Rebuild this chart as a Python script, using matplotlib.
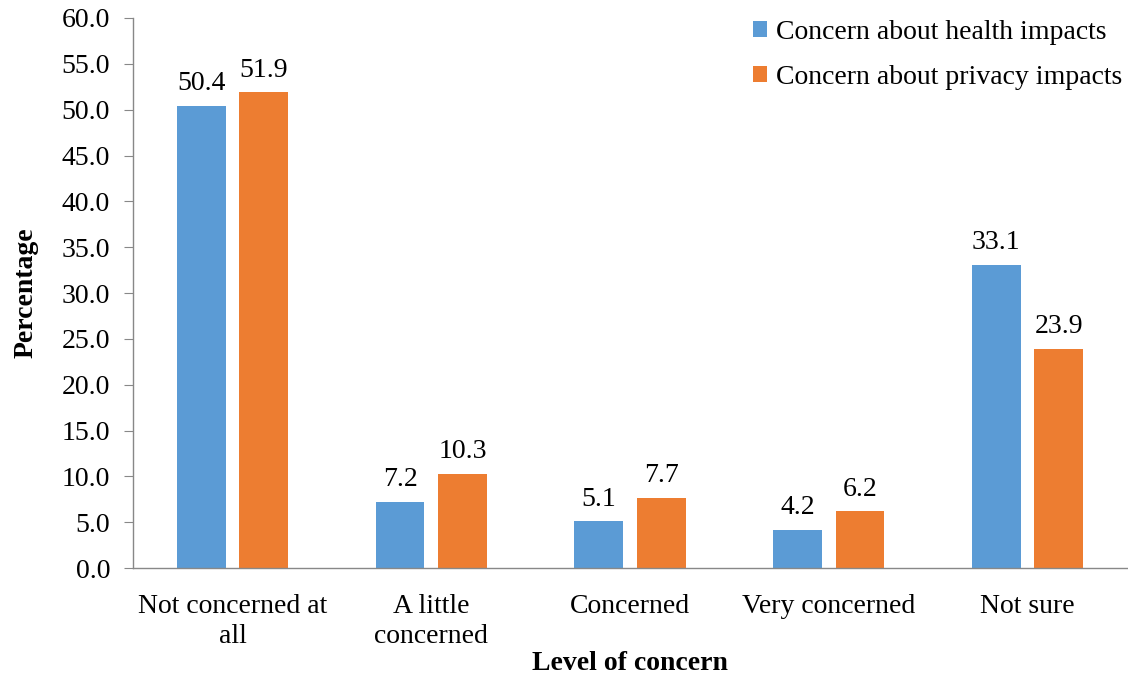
import numpy as np
import matplotlib.pyplot as plt

plt.rcParams['font.family'] = ['Liberation Serif', 'DejaVu Serif']

# Survey results (percent of respondents)
categories = ['Not concerned at\nall', 'A little\nconcerned', 'Concerned',
              'Very concerned', 'Not sure']
health = [50.4, 7.2, 5.1, 4.2, 33.1]
privacy = [51.9, 10.3, 7.7, 6.2, 23.9]
series_names = ['Concern about health impacts', 'Concern about privacy impacts']
colors = ['#5B9BD5', '#ED7D31']

fs = 20

fig = plt.figure(figsize=(11.28, 6.78), dpi=100)
ax = fig.add_axes([0.118, 0.162, 0.881, 0.8115])

x = np.arange(len(categories))
w = 0.245
off = 0.157
b1 = ax.bar(x - off, health, w, color=colors[0], label=series_names[0])
b2 = ax.bar(x + off, privacy, w, color=colors[1], label=series_names[1])

for bars, vals in ((b1, health), (b2, privacy)):
    for rect, v in zip(bars, vals):
        ax.annotate(f'{v:.1f}', (rect.get_x() + rect.get_width() / 2, v),
                    xytext=(0, 7), textcoords='offset points',
                    ha='center', va='bottom', fontsize=fs)

ax.set_xlim(-0.5, len(categories) - 0.5)
ax.set_ylim(0, 60)
ax.set_yticks(np.arange(0, 60.1, 5))
ax.set_yticklabels([f'{t:.1f}' for t in np.arange(0, 60.1, 5)])
ax.set_xticks(x)
ax.set_xticklabels(categories, fontsize=fs, linespacing=1.25)
ax.tick_params(axis='x', length=0, pad=18.5)
ax.tick_params(axis='y', length=6.5, color='#888888', labelsize=fs, pad=10)

for s in ('top', 'right'):
    ax.spines[s].set_visible(False)
for s in ('left', 'bottom'):
    ax.spines[s].set_color('#888888')
    ax.spines[s].set_linewidth(1.0)

ax.set_ylabel('Percentage', fontsize=fs, fontweight='bold', labelpad=17)
ax.set_xlabel('Level of concern', fontsize=fs, fontweight='bold', labelpad=2)

ax.legend(loc='upper left', bbox_to_anchor=(0.599, 1.042), frameon=False,
          fontsize=fs, handlelength=0.5, handleheight=0.5,
          handletextpad=0.3, labelspacing=0.72)

fig.savefig('out.png', dpi=100)
